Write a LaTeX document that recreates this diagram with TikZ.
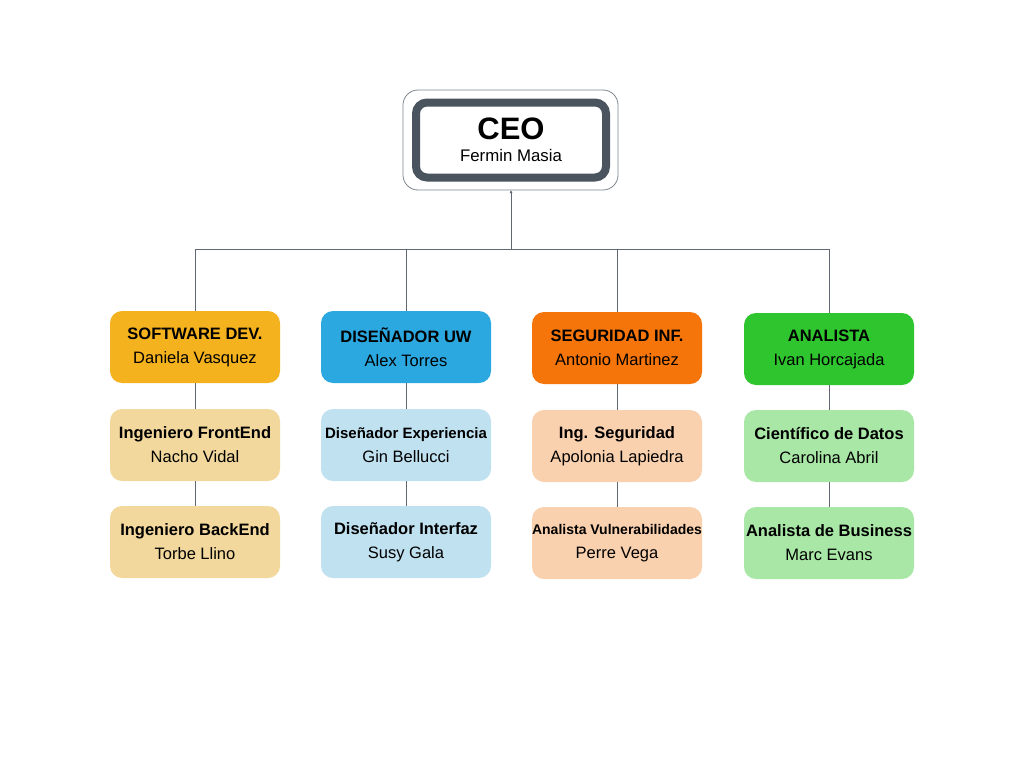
\documentclass[tikz,border=0pt]{standalone}
\usepackage{fontspec}
\setmainfont{Liberation Sans}
\usetikzlibrary{arrows.meta}
\definecolor{linegray}{HTML}{5F6873}
\definecolor{ceogray}{HTML}{4A545E}
\definecolor{swhead}{HTML}{F4B21F}
\definecolor{swsub}{HTML}{F2D89C}
\definecolor{dshead}{HTML}{2BA8E0}
\definecolor{dssub}{HTML}{BFE1F0}
\definecolor{sghead}{HTML}{F5750A}
\definecolor{sgsub}{HTML}{FAD1AF}
\definecolor{anhead}{HTML}{2EC52E}
\definecolor{ansub}{HTML}{A9E7A6}
\tikzset{
  orgbox/.style={rounded corners=12pt,minimum width=170pt,minimum height=72pt,
    align=center,inner sep=0pt,font=\fontsize{16.5}{24}\selectfont},
  link/.style={draw=linegray,line width=0.8pt}
}

\begin{document}
\begin{tikzpicture}[x=1pt,y=-1pt]
\useasboundingbox[fill=white] (0,0) rectangle (1024,768);
% CEO
\draw[linegray!80,line width=0.8pt,rounded corners=15pt] (403,90) rectangle (618,190);
\node[orgbox,draw=ceogray,line width=8pt,minimum width=190pt,minimum height=75pt,
  rounded corners=11pt,font=\fontsize{16.8}{24}\selectfont] (ceo) at (511,140)
  {{\fontsize{31}{31}\selectfont\bfseries CEO}\\[-2pt]Fermin Masia};
\coordinate (ceobot) at (511,190);

% Department heads
\node[orgbox,fill=swhead] (sw) at (195,347) {\textbf{SOFTWARE DEV.}\\Daniela Vasquez};
\node[orgbox,fill=dshead] (ds) at (406,347) {\textbf{DISEÑADOR UW}\\Alex Torres};
\node[orgbox,fill=sghead] (sg) at (617,348) {\textbf{SEGURIDAD INF.}\\Antonio Martinez};
\node[orgbox,fill=anhead] (an) at (829,349) {\textbf{ANALISTA}\\Ivan Horcajada};

% Second level
\node[orgbox,fill=swsub] (fe) at (195,445) {\textbf{Ingeniero FrontEnd}\\Nacho Vidal};
\node[orgbox,fill=dssub] (ux) at (406,445) {{\fontsize{15}{24}\selectfont\bfseries Diseñador Experiencia}\\Gin Bellucci};
\node[orgbox,fill=sgsub] (is) at (617,446) {\textbf{Ing. Seguridad}\\Apolonia Lapiedra};
\node[orgbox,fill=ansub] (cd) at (829,446) {\textbf{Científico de Datos}\\Carolina Abril};

% Third level
\node[orgbox,fill=swsub] (be) at (195,542) {\textbf{Ingeniero BackEnd}\\Torbe Llino};
\node[orgbox,fill=dssub] (ui) at (406,542) {\textbf{Diseñador Interfaz}\\Susy Gala};
\node[orgbox,fill=sgsub] (av) at (617,543) {{\fontsize{14}{26}\selectfont\bfseries Analista Vulnerabilidades}\\Perre Vega};
\node[orgbox,fill=ansub] (ab) at (829,543) {\textbf{Analista de Business}\\Marc Evans};

% Connectors
\coordinate (bus) at (511,249);
\draw[link,-{Latex[length=3pt,width=3pt]}] (bus) -- (ceobot);
\draw[link] (sw.north |- bus) -- (an.north |- bus);
\foreach \h in {sw,ds,sg,an}
  \draw[link] (\h.north |- bus) -- (\h.north);
\foreach \a/\b in {sw/fe,fe/be,ds/ux,ux/ui,sg/is,is/av,an/cd,cd/ab}
  \draw[link] (\a.south) -- (\b.north);
\end{tikzpicture}
\end{document}
